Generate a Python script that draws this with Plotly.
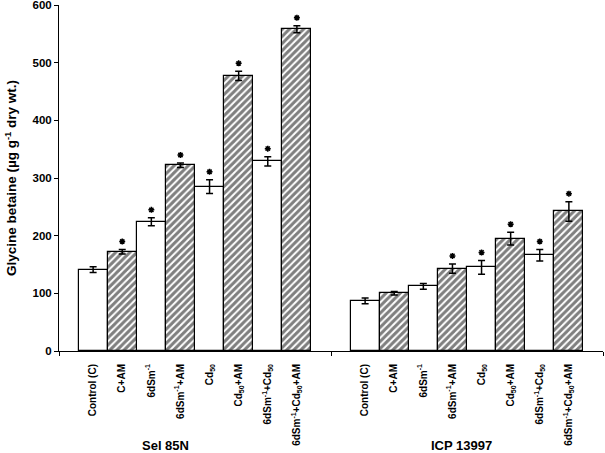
import plotly.graph_objects as go

# ---- data ----
treatments = ["Control (C)", "C+AM", "6dSm<sup>-1</sup>", "6dSm<sup>-1</sup>+AM",
              "Cd<sub>50</sub>", "Cd<sub>50</sub>+AM", "6dSm<sup>-1</sup>+Cd<sub>50</sub>",
              "6dSm<sup>-1</sup>+Cd<sub>50</sub>+AM"]
groups = ["Sel 85N", "ICP 13997"]
sel_values = [141, 172, 224, 322, 285, 477, 329, 558]
sel_errors = [5, 4, 7, 4, 12, 8, 8, 6]
sel_sig = [0, 1, 1, 1, 1, 1, 1, 1]
icp_values = [87, 100, 112, 143, 145, 195, 166, 242]
icp_errors = [5, 3, 5, 8, 12, 11, 10, 17]
icp_sig = [0, 0, 0, 1, 1, 1, 1, 1]
hatched = [False, True, False, True, False, True, False, True]
y_ticks = [0, 100, 200, 300, 400, 500, 600]

FONT = "Liberation Sans, Arial, sans-serif"
GAP = 0.672
CAT_W = 8 + 2 * GAP
PX_PER_UNIT = 346.5 / 600.0
STAR_OFF = 8 / PX_PER_UNIT

fig = go.Figure()

all_x, all_text = [], []
for g, (vals, errs, sig) in enumerate([(sel_values, sel_errors, sel_sig),
                                        (icp_values, icp_errors, icp_sig)]):
    xs = [g * CAT_W + GAP + 0.5 + i for i in range(len(vals))]
    all_x += xs
    all_text += treatments
    for h in (False, True):
        idx = [i for i in range(len(vals)) if hatched[i] == h]
        fig.add_trace(go.Bar(
            x=[xs[i] for i in idx], y=[vals[i] for i in idx], width=1.0,
            error_y=dict(type="data", array=[errs[i] for i in idx], color="black",
                         thickness=1.5, width=3.5),
            marker=dict(color="white", line=dict(color="black", width=1.2),
                        pattern=dict(shape="/" if h else "", fgcolor="black",
                                     bgcolor="white", size=5, solidity=0.6)),
            showlegend=False, hoverinfo="skip"))
    sx = [xs[i] for i in range(len(vals)) if sig[i]]
    sy = [vals[i] + errs[i] + STAR_OFF for i in range(len(vals)) if sig[i]]
    fig.add_trace(go.Scatter(x=sx, y=sy, mode="markers",
                             marker=dict(symbol="asterisk-open", size=5, color="black",
                                         line=dict(color="black", width=1.5)),
                             showlegend=False, hoverinfo="skip"))

# dummy trace to activate overlay axis for category boundary ticks
fig.add_trace(go.Scatter(x=[0, 2 * CAT_W], y=[0, 0], mode="lines", xaxis="x2",
                         line=dict(width=0), showlegend=False, hoverinfo="skip"))

fig.update_layout(
    width=605, height=453,
    margin=dict(l=59, r=2, t=5, b=101.5),
    plot_bgcolor="white", paper_bgcolor="white",
    bargap=0, barmode="overlay",
    font=dict(family=FONT, color="black"),
    xaxis=dict(range=[0, 2 * CAT_W], tickmode="array", tickvals=all_x, ticktext=all_text,
               tickangle=-90, ticks="", showgrid=False, zeroline=False,
               showline=True, linecolor="black", linewidth=1, automargin=False,
               tickfont=dict(size=10, family=FONT, weight="bold"),
               ticklabelstandoff=8, ticklabeloverflow="allow"),
    xaxis2=dict(range=[0, 2 * CAT_W], overlaying="x", side="bottom",
                tickmode="array", tickvals=[0, CAT_W, 2 * CAT_W], ticks="outside",
                ticklen=4, tickcolor="black", showticklabels=False, showgrid=False,
                zeroline=False, showline=False, automargin=False),
    yaxis=dict(range=[0, 600], tickmode="array", tickvals=y_ticks,
               ticks="outside", ticklen=4, tickcolor="black",
               showline=True, linecolor="black", linewidth=1,
               showgrid=False, zeroline=False, automargin=False,
               ticklabeloverflow="allow",
               tickfont=dict(size=11.5, family=FONT, weight="bold"),
               title=dict(text="Glycine betaine (µg g<sup>-1</sup> dry wt.)",
                          font=dict(size=13.5, family=FONT, weight="bold"),
                          standoff=12)),
    annotations=[
        dict(text=groups[0], xref="paper", yref="paper", x=0.196, y=-0.273,
             xanchor="center", yanchor="middle", showarrow=False,
             font=dict(size=13, family=FONT, weight="bold")),
        dict(text=groups[1], xref="paper", yref="paper", x=0.739, y=-0.273,
             xanchor="center", yanchor="middle", showarrow=False,
             font=dict(size=13, family=FONT, weight="bold")),
    ],
)

fig.write_html("out.html", config={"displayModeBar": False},
               post_script="document.body.style.margin='0';document.body.style.padding='0';")
